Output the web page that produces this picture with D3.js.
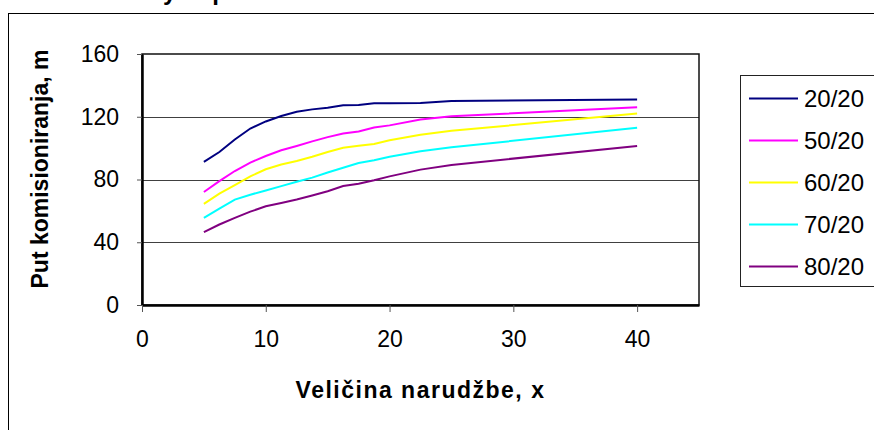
<!DOCTYPE html>
<html lang='hr'>
<head>
	<meta charset='UTF-8'/>
	<title>Put komisioniranja</title>
	<script src='https://cdnjs.cloudflare.com/ajax/libs/d3/7.8.5/d3.min.js'></script>
	<style>
		body {margin: 0; background: #fff;}
		svg {display: block; font-family: Arial, 'Liberation Sans', sans-serif;}
	</style>
</head>
<body>
	<div class='graph'></div>
	<script>
		// data
		var orderSizes = [5, 6.25, 7.5, 8.75, 10, 11.25, 12.5, 13.75, 15, 16.25, 17.5, 18.75, 20, 22.5, 25, 40];
		var s2020 = [91.2, 97.5, 105.5, 112.5, 117, 120.5, 123.2, 124.7, 125.8, 127.4, 127.5, 128.6, 128.6, 128.7, 130, 131];
		var s5020 = [72, 79, 85.4, 90.8, 95, 98.6, 101.4, 104.3, 107, 109.3, 110.6, 113.2, 114.5, 118.2, 120.3, 126];
		var s6020 = [64.5, 71, 76.4, 82, 86.5, 89.6, 91.8, 94.5, 97.5, 100.2, 101.5, 102.6, 105, 108.5, 111, 122];
		var s7020 = [55.5, 61.5, 67.2, 70.3, 73, 75.8, 78.6, 81.2, 84.5, 87.5, 90.5, 92.3, 94.5, 98, 100.5, 113];
		var s8020 = [46.5, 51.3, 55.5, 59.5, 62.9, 65, 67.2, 69.8, 72.5, 75.8, 77.3, 79.5, 82, 86.3, 89.3, 101.4];
		var seriesNames = ['20/20', '50/20', '60/20', '70/20', '80/20'];
		var seriesColours = ['#000080', '#FF00FF', '#FFFF00', '#00FFFF', '#800080'];
		var xTicks = [0, 10, 20, 30, 40];
		var yTicks = [0, 40, 80, 120, 160];

		var width = 874, height = 430;
		var plot = {left: 142, right: 699, top: 54, bottom: 305};

		var svg = d3.select('.graph')
			.append('svg')
			.attr('width', width)
			.attr('height', height);

		// heading above the chart, mostly outside the picture
		svg.append('text')
			.attr('x', 67)
			.attr('y', 0)
			.style('font-size', '24px')
			.style('font-weight', 'bold')
			.text('Summary of path');

		// chart frame
		svg.append('rect')
			.attr('x', 8.5).attr('y', 13.5)
			.attr('width', 900).attr('height', 500)
			.attr('fill', 'none')
			.attr('stroke', '#000');

		var X_SCALE = d3.scaleLinear().domain([0, 45]).range([plot.left, plot.right]);
		var Y_SCALE = d3.scaleLinear().domain([0, 160]).range([plot.bottom, plot.top]);

		// gridlines
		svg.append('g')
			.selectAll('line')
			.data(yTicks.filter(d => d > 0 && d < 160))
			.enter()
			.append('line')
			.attr('x1', plot.left).attr('x2', plot.right)
			.attr('y1', d => Math.round(Y_SCALE(d)) + 0.5)
			.attr('y2', d => Math.round(Y_SCALE(d)) + 0.5)
			.attr('stroke', '#404040');

		// plot frame
		svg.append('rect')
			.attr('x', plot.left).attr('y', plot.top)
			.attr('width', plot.right - plot.left)
			.attr('height', plot.bottom - plot.top)
			.attr('fill', 'none')
			.attr('stroke', '#111')
			.attr('stroke-width', 1.5);

		// axes
		var yAxis = svg.append('g')
			.attr('transform', 'translate(' + plot.left + ',0)')
			.call(d3.axisLeft(Y_SCALE).tickValues(yTicks).tickSize(5).tickPadding(18).tickSizeOuter(0));
		var xAxis = svg.append('g')
			.attr('transform', 'translate(0,' + plot.bottom + ')')
			.call(d3.axisBottom(X_SCALE).tickValues(xTicks).tickSize(7).tickPadding(19).tickSizeOuter(0));
		[xAxis, yAxis].forEach(a => {
			a.select('.domain').attr('stroke', '#000').attr('stroke-width', 2.5);
			a.selectAll('.tick line').attr('stroke', '#555');
			a.selectAll('.tick text')
				.attr('fill', '#000')
				.style('font-size', '23px')
				.style('font-family', 'Arial, "Liberation Sans", sans-serif');
		});

		// axis titles
		svg.append('text')
			.attr('x', (plot.left + plot.right) / 2)
			.attr('y', 398)
			.attr('text-anchor', 'middle')
			.style('font-size', '23px')
			.style('font-weight', 'bold')
			.style('letter-spacing', '1.5px')
			.text('Veličina narudžbe, x');
		svg.append('text')
			.attr('transform', 'rotate(-90)')
			.attr('x', -169)
			.attr('y', 48)
			.attr('text-anchor', 'middle')
			.style('font-size', '23px')
			.style('font-weight', 'bold')
			.text('Put komisioniranja, m');

		// lines
		var allSeries = [s2020, s5020, s6020, s7020, s8020];
		var line = d3.line()
			.x((d, i) => X_SCALE(orderSizes[i]))
			.y(d => Y_SCALE(d));
		svg.append('g')
			.selectAll('path')
			.data(allSeries)
			.enter()
			.append('path')
			.attr('d', d => line(d))
			.attr('fill', 'none')
			.attr('stroke', (d, i) => seriesColours[i])
			.attr('stroke-width', 2);

		// legend
		var legend = svg.append('g');
		legend.append('rect')
			.attr('x', 740.5).attr('y', 75.5)
			.attr('width', 200).attr('height', 211)
			.attr('fill', '#fff')
			.attr('stroke', '#222');
		var items = legend.selectAll('g.item')
			.data(seriesNames)
			.enter()
			.append('g')
			.attr('class', 'item')
			.attr('transform', (d, i) => 'translate(0,' + (98.5 + i * 42) + ')');
		items.append('line')
			.attr('x1', 749).attr('x2', 798)
			.attr('stroke', (d, i) => seriesColours[i])
			.attr('stroke-width', 2);
		items.append('text')
			.attr('x', 804)
			.attr('dy', '0.36em')
			.style('font-size', '24px')
			.text(d => d);
	</script>
</body>
</html>
